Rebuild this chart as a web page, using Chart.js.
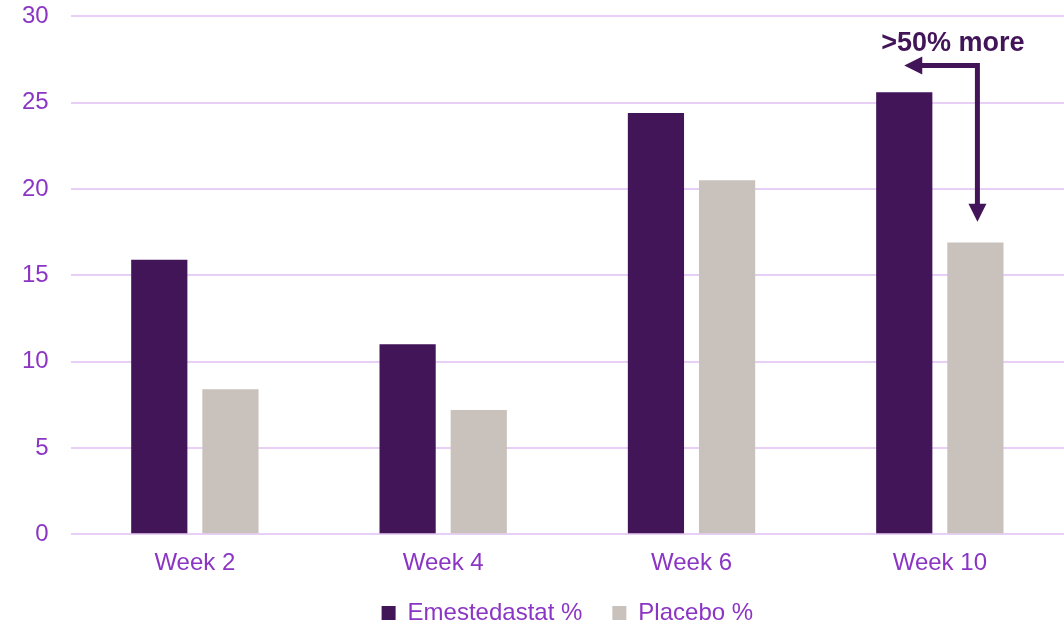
<!DOCTYPE html>
<html>
<head>
<meta charset="utf-8">
<script src="https://cdn.jsdelivr.net/npm/chart.js@4"></script>
<style>
  html, body { margin: 0; padding: 0; background: #ffffff; }
  #wrap { width: 1064px; height: 624px; }
</style>
</head>
<body>
<div id="wrap"><canvas id="chart"></canvas></div>
<script>
const weeks = ['Week 2', 'Week 4', 'Week 6', 'Week 10'];
const emestedastat = [15.9, 11.0, 24.4, 25.6];
const placebo = [8.4, 7.2, 20.5, 16.9];
const yTicks = [0, 5, 10, 15, 20, 25, 30];
const calloutText = '>50% more';

const DARK = '#421559';
const GREY = '#C9C1BB';
const TEXT = '#8B35C4';
const GRID = '#E8CFF5';
const FONT = '"Liberation Sans", Arial, sans-serif';

// arrow from placebo bar top round to the emestedastat bar, week 10
const calloutPlugin = {
  id: 'callout',
  afterDatasetsDraw(chart) {
    const ctx = chart.ctx;
    const y = chart.scales.y;
    const a = chart.getDatasetMeta(0).data[3];
    const b = chart.getDatasetMeta(1).data[3];
    const lineY = y.getPixelForValue(27.15);
    const tipY = y.getPixelForValue(18.1);
    const xv = b.x + 2;
    const xl = a.x;

    ctx.save();
    ctx.strokeStyle = DARK;
    ctx.fillStyle = DARK;
    ctx.lineWidth = 5;
    ctx.beginPath();
    ctx.moveTo(xl + 16, lineY);
    ctx.lineTo(xv, lineY);
    ctx.lineTo(xv, tipY - 16);
    ctx.stroke();

    ctx.beginPath();
    ctx.moveTo(xl, lineY);
    ctx.lineTo(xl + 18, lineY - 9);
    ctx.lineTo(xl + 18, lineY + 9);
    ctx.closePath();
    ctx.fill();

    ctx.beginPath();
    ctx.moveTo(xv, tipY);
    ctx.lineTo(xv - 9, tipY - 18);
    ctx.lineTo(xv + 9, tipY - 18);
    ctx.closePath();
    ctx.fill();

    ctx.font = 'bold 27px ' + FONT;
    ctx.textAlign = 'center';
    ctx.textBaseline = 'middle';
    ctx.fillText(calloutText, (xl + xv) / 2 + 12, y.getPixelForValue(28.4));
    ctx.restore();
  }
};

new Chart(document.getElementById('chart'), {
  type: 'bar',
  data: {
    labels: weeks,
    datasets: [
      {
        label: 'Emestedastat %',
        data: emestedastat,
        backgroundColor: DARK,
        barPercentage: 0.79,
        categoryPercentage: 0.573,
      },
      {
        label: 'Placebo %',
        data: placebo,
        backgroundColor: GREY,
        barPercentage: 0.79,
        categoryPercentage: 0.573,
      },
    ],
  },
  options: {
    responsive: true,
    maintainAspectRatio: false,
    animation: false,
    layout: { padding: { top: 0, right: 0, left: 0, bottom: -11 } },
    scales: {
      x: {
        grid: { display: false },
        border: { display: false },
        afterFit: (axis) => {
          axis.height -= 14;
        },
        ticks: {
          color: TEXT,
          font: { family: FONT, size: 24 },
          padding: 7,
        },
      },
      y: {
        min: 0,
        max: 30,
        afterBuildTicks: (axis) => {
          axis.ticks = yTicks.map((v) => ({ value: v }));
        },
        afterFit: (axis) => {
          axis.width += 20;
        },
        grid: { color: GRID, lineWidth: 2, drawTicks: true, tickLength: 20, tickColor: 'rgba(0,0,0,0)' },
        border: { display: false },
        ticks: {
          color: TEXT,
          font: { family: FONT, size: 24 },
          padding: 2,
        },
      },
    },
    plugins: {
      legend: {
        position: 'bottom',
        fullSize: false,
        labels: {
          color: TEXT,
          boxWidth: 14,
          boxHeight: 14,
          padding: 30,
          font: { family: FONT, size: 24 },
        },
      },
      tooltip: { enabled: false },
    },
  },
  plugins: [calloutPlugin],
});
</script>
</body>
</html>
